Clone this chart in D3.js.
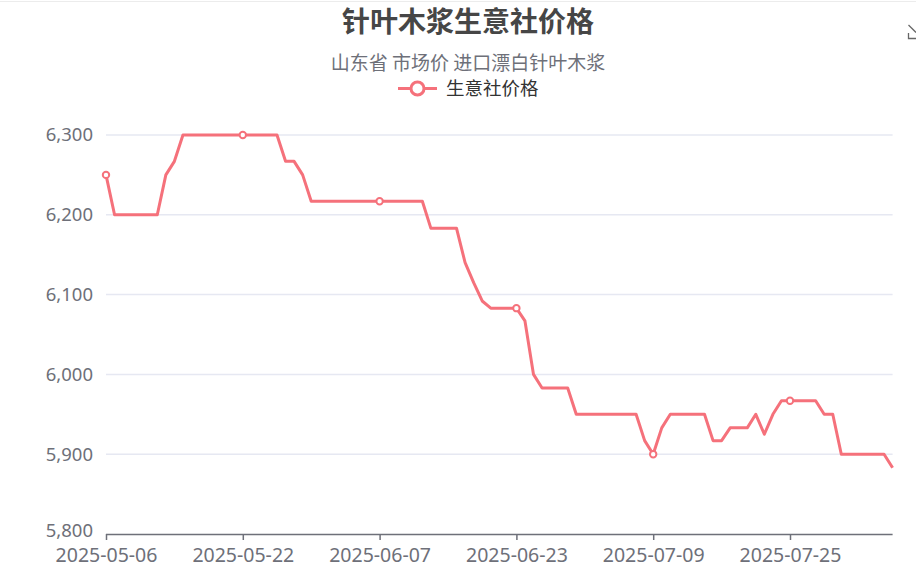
<!DOCTYPE html>
<html>
<head>
<meta charset="utf-8">
<script src="https://cdn.jsdelivr.net/npm/d3@7/dist/d3.min.js"></script>
<style>
  html, body { margin: 0; padding: 0; background: #fff; }
  svg { display: block; }
  text { font-family: "Noto Sans", "Noto Sans CJK SC", sans-serif; }
</style>
</head>
<body>
<svg id="chart" width="916" height="580"></svg>
<script>
const titleText = "针叶木浆生意社价格";
const subtitleText = "山东省 市场价 进口漂白针叶木浆";
const seriesName = "生意社价格";

const dates = [
  "2025-05-06","2025-05-07","2025-05-08","2025-05-09","2025-05-10","2025-05-11","2025-05-12","2025-05-13","2025-05-14","2025-05-15",
  "2025-05-16","2025-05-17","2025-05-18","2025-05-19","2025-05-20","2025-05-21","2025-05-22","2025-05-23","2025-05-24","2025-05-25",
  "2025-05-26","2025-05-27","2025-05-28","2025-05-29","2025-05-30","2025-05-31","2025-06-01","2025-06-02","2025-06-03","2025-06-04",
  "2025-06-05","2025-06-06","2025-06-07","2025-06-08","2025-06-09","2025-06-10","2025-06-11","2025-06-12","2025-06-13","2025-06-14",
  "2025-06-15","2025-06-16","2025-06-17","2025-06-18","2025-06-19","2025-06-20","2025-06-21","2025-06-22","2025-06-23","2025-06-24",
  "2025-06-25","2025-06-26","2025-06-27","2025-06-28","2025-06-29","2025-06-30","2025-07-01","2025-07-02","2025-07-03","2025-07-04",
  "2025-07-05","2025-07-06","2025-07-07","2025-07-08","2025-07-09","2025-07-10","2025-07-11","2025-07-12","2025-07-13","2025-07-14",
  "2025-07-15","2025-07-16","2025-07-17","2025-07-18","2025-07-19","2025-07-20","2025-07-21","2025-07-22","2025-07-23","2025-07-24",
  "2025-07-25","2025-07-26","2025-07-27","2025-07-28","2025-07-29","2025-07-30","2025-07-31","2025-08-01","2025-08-02","2025-08-03",
  "2025-08-04","2025-08-05","2025-08-06"
];

const prices = [
  6250,6200,6200,6200,6200,6200,6200,6250,6267,6300,
  6300,6300,6300,6300,6300,6300,6300,6300,6300,6300,
  6300,6267,6267,6250,6217,6217,6217,6217,6217,6217,
  6217,6217,6217,6217,6217,6217,6217,6217,6183,6183,
  6183,6183,6140,6115,6092,6083,6083,6083,6083,6067,
  6000,5983,5983,5983,5983,5950,5950,5950,5950,5950,
  5950,5950,5950,5917,5900,5933,5950,5950,5950,5950,
  5950,5917,5917,5933,5933,5933,5950,5925,5950,5967,
  5967,5967,5967,5967,5950,5950,5900,5900,5900,5900,
  5900,5900,5883
];

const yTicks = [5800, 5900, 6000, 6100, 6200, 6300];
const labelInterval = 16;

const svg = d3.select("#chart");
const W = 916, H = 580;
const centerX = 468;
const color = "#f5717b";
const m = { left: 106, right: 892.6, top: 135, bottom: 534 };

svg.append("rect").attr("width", W).attr("height", H).attr("fill", "#fff");
svg.append("line").attr("x1", 0).attr("x2", W).attr("y1", 1.5).attr("y2", 1.5)
  .attr("stroke", "#ececec").attr("stroke-width", 1);

const x = d3.scalePoint().domain(dates).range([m.left, m.right]);
const y = d3.scaleLinear().domain([5800, 6300]).range([m.bottom, m.top]);

// grid lines
svg.append("g").selectAll("line").data(yTicks.filter(t => t !== 5800)).join("line")
  .attr("x1", m.left).attr("x2", m.right)
  .attr("y1", d => y(d)).attr("y2", d => y(d))
  .attr("stroke", "#e6e8f2").attr("stroke-width", 1.5);

// y axis labels
const yAxis = d3.axisLeft(y).tickValues(yTicks).tickSize(0).tickPadding(13)
  .tickFormat(d3.format(","));
const gy = svg.append("g").attr("transform", `translate(${m.left},0)`).call(yAxis);
gy.select(".domain").remove();
gy.selectAll("text").attr("fill", "#6e7079").style("font-size", "18.5px")
  .style("font-family", "'Noto Sans', sans-serif");
gy.selectAll(".tick").filter(d => d === 5800).select("text").attr("dy", "0.12em");

// x axis
const tickDates = dates.filter((d, i) => i % labelInterval === 0);
const xAxis = d3.axisBottom(x).tickValues(tickDates).tickSize(6).tickPadding(8);
const gx = svg.append("g").attr("transform", `translate(0,${m.bottom})`).call(xAxis);
gx.select(".domain").attr("d", `M${m.left},0.5H${m.right}`).attr("stroke", "#6e7079").attr("stroke-width", 1.5);
gx.selectAll(".tick line").attr("stroke", "#6e7079").attr("stroke-width", 1.5);
gx.selectAll("text").attr("fill", "#6e7079").style("font-size", "19.5px")
  .style("font-family", "'Noto Sans', sans-serif");

// line
const line = d3.line().x((d, i) => x(dates[i])).y(d => y(d));
svg.append("path").datum(prices).attr("d", line)
  .attr("fill", "none").attr("stroke", color).attr("stroke-width", 3)
  .attr("stroke-linejoin", "round");

// markers
svg.append("g").selectAll("circle")
  .data(prices.map((v, i) => ({ v, i })).filter(d => d.i % labelInterval === 0))
  .join("circle")
  .attr("cx", d => x(dates[d.i])).attr("cy", d => y(d.v)).attr("r", 3.2)
  .attr("fill", "#fff").attr("stroke", color).attr("stroke-width", 2);

// title
svg.append("text").attr("x", centerX).attr("y", 32).attr("text-anchor", "middle")
  .style("font-family", "'Noto Sans CJK SC', sans-serif")
  .style("font-size", "28px").style("font-weight", "bold").attr("fill", "#464646")
  .text(titleText);
svg.append("text").attr("x", centerX).attr("y", 69.5).attr("text-anchor", "middle")
  .style("font-family", "'Noto Sans CJK SC', sans-serif")
  .style("font-size", "19px").attr("fill", "#6e7079")
  .text(subtitleText);

// legend
const lg = svg.append("g");
lg.append("line").attr("x1", 398).attr("x2", 437).attr("y1", 88.5).attr("y2", 88.5)
  .attr("stroke", color).attr("stroke-width", 3);
lg.append("circle").attr("cx", 417.5).attr("cy", 88.5).attr("r", 6.5)
  .attr("fill", "#fff").attr("stroke", color).attr("stroke-width", 3);
lg.append("text").attr("x", 446).attr("y", 94.5)
  .style("font-family", "'Noto Sans CJK SC', sans-serif")
  .style("font-size", "18.5px").attr("fill", "#333")
  .text(seriesName);

// toolbox icon (partially visible at right edge)
const tb = svg.append("g").attr("fill", "none").attr("stroke", "#666").attr("stroke-width", 1.3);
tb.append("path").attr("d", "M908.5,25L916,32.5");
tb.append("path").attr("d", "M908.5,33V38.5H917");
</script>
</body>
</html>
